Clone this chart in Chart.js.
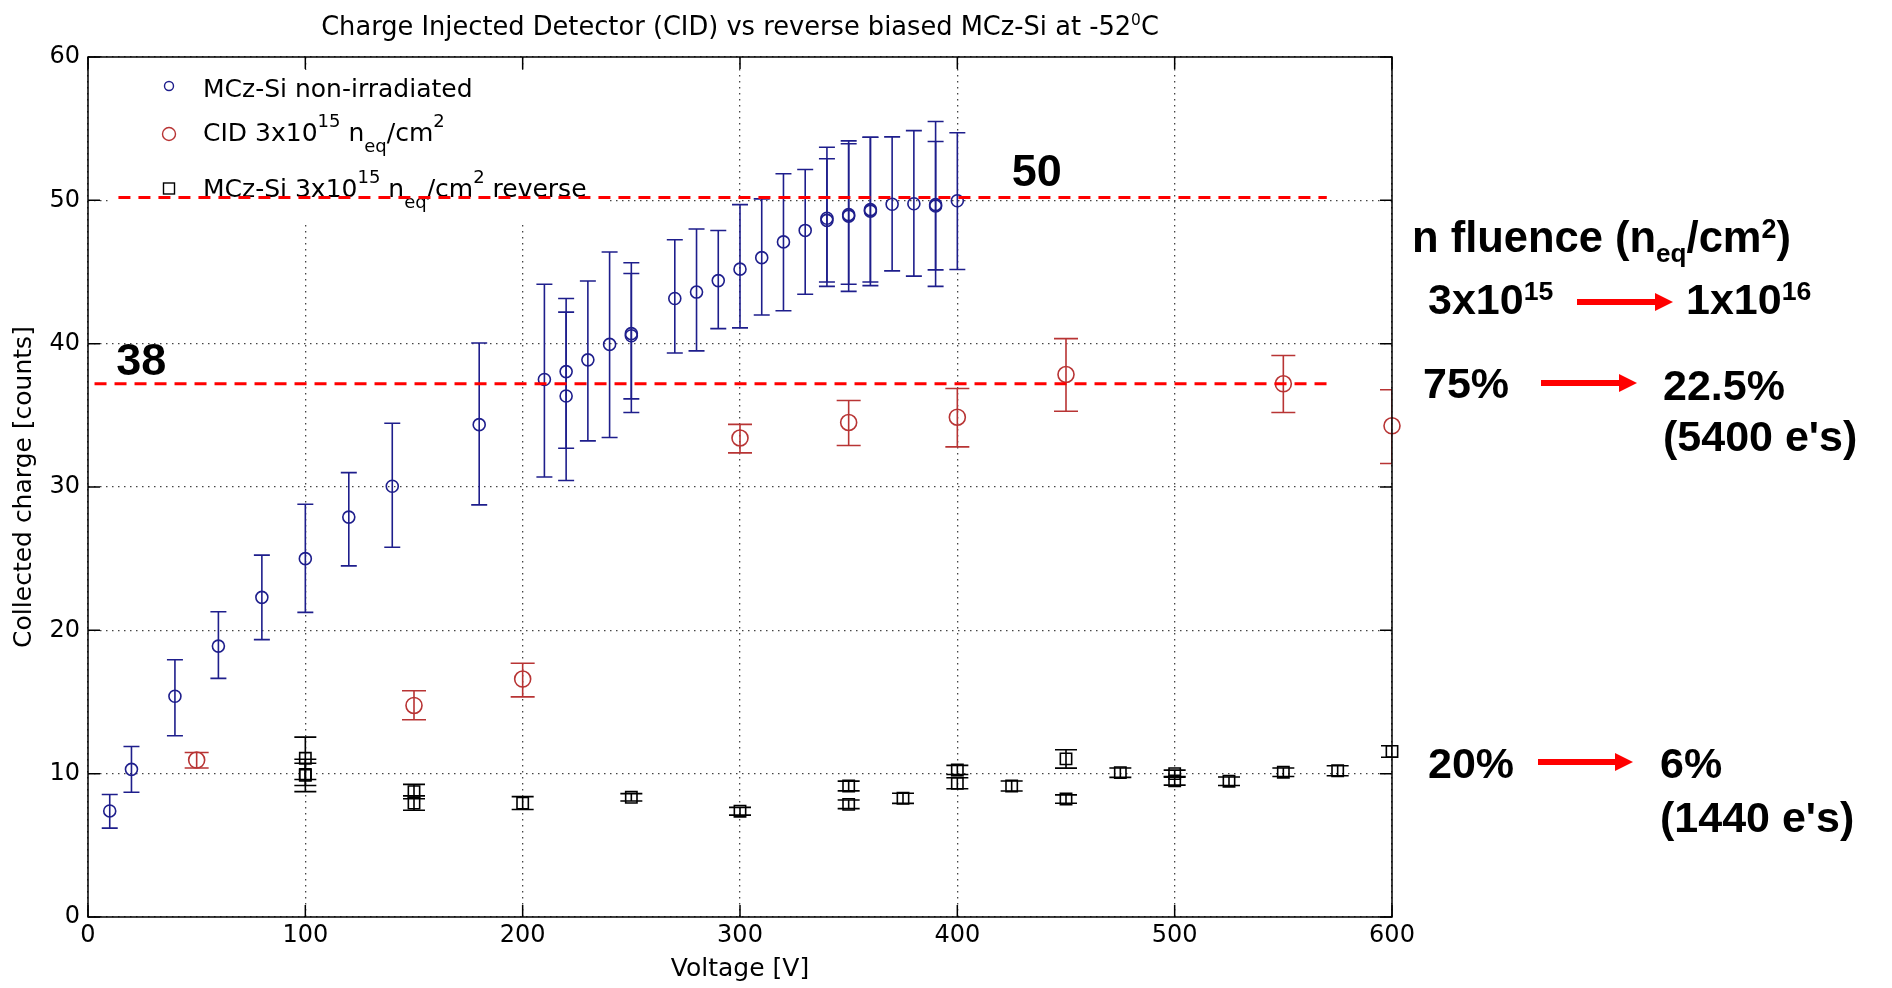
<!DOCTYPE html>
<html>
<head>
<meta charset="utf-8">
<script src="https://cdn.jsdelivr.net/npm/chart.js@4.4.1/dist/chart.umd.min.js"></script>
<style>
  html, body { margin: 0; padding: 0; background: #fff; }
  canvas { display: block; }
</style>
</head>
<body>
<canvas id="cid" width="1892" height="988"></canvas>
<script>
// ---- data ----
const xTicks = [0, 100, 200, 300, 400, 500, 600];
const yTicks = [0, 10, 20, 30, 40, 50, 60];

// MCz-Si non-irradiated
const blueVolts  = [10, 20, 40, 60, 80, 100, 120, 140, 180, 210, 220, 220, 230, 240, 250, 250, 270, 280, 290, 300, 310, 320, 330, 340, 340, 350, 350, 360, 360, 370, 380, 390, 390, 400];
const blueCharge = [7.4, 10.3, 15.4, 18.9, 22.3, 25.0, 27.9, 30.05, 34.35, 37.5, 38.05, 36.35, 38.87, 39.95, 40.7, 40.55, 43.15, 43.6, 44.4, 45.2, 46.0, 47.1, 47.9, 48.75, 48.6, 49.0, 48.9, 49.35, 49.25, 49.73, 49.76, 49.7, 49.6, 49.97];
const blueUp     = [1.15, 1.6, 2.55, 2.4, 2.95, 3.8, 3.1, 4.4, 5.7, 6.65, 5.1, 5.85, 5.5, 6.45, 4.95, 4.35, 4.1, 4.4, 3.5, 4.5, 4.1, 4.75, 4.25, 4.95, 4.3, 5.15, 5.05, 5.05, 5.15, 4.7, 5.1, 5.8, 4.5, 4.75];
const blueDown   = [1.2, 1.6, 2.75, 2.25, 2.95, 3.75, 3.4, 4.25, 5.6, 6.8, 5.35, 5.9, 5.65, 6.5, 5.5, 4.4, 3.8, 4.1, 3.35, 4.1, 4.0, 4.8, 4.45, 4.45, 4.6, 4.85, 5.25, 5.05, 5.2, 4.65, 5.05, 5.7, 4.45, 4.8];

// CID 3x10^15
const redVolts  = [50, 150, 200, 300, 350, 400, 450, 550, 600];
const redCharge = [10.95, 14.76, 16.6, 33.42, 34.5, 34.87, 37.85, 37.2, 34.27];
const redUp     = [0.53, 1.02, 1.1, 0.95, 1.53, 2.0, 2.5, 1.97, 2.52];
const redDown   = [0.55, 1.0, 1.24, 1.04, 1.6, 2.07, 2.56, 2.0, 2.63];

// MCz-Si 3x10^15 reverse
const blackVolts  = [100, 100, 100, 150, 150, 200, 250, 300, 350, 350, 375, 400, 400, 425, 450, 450, 475, 500, 500, 525, 550, 575, 600];
const blackCharge = [11.07, 9.88, 9.95, 8.75, 7.95, 7.95, 8.35, 7.38, 9.14, 7.86, 8.28, 10.26, 9.33, 9.14, 11.03, 8.23, 10.07, 10.0, 9.5, 9.47, 10.1, 10.2, 11.55];
const blackErr    = [1.48, 1.13, 0.78, 0.5, 0.5, 0.45, 0.26, 0.27, 0.34, 0.3, 0.35, 0.32, 0.38, 0.35, 0.64, 0.29, 0.33, 0.25, 0.3, 0.3, 0.3, 0.35, 0.4];

// red dashed reference levels
const refLevels = [50.2, 37.2];
const refFrom   = [14, 3];
const refTo     = [570, 570];
const refLabels = ['50', '38'];
const refLabelAt = [[425, 51.9], [13, 38.7]];

const FONT = '"DejaVu Sans", sans-serif';
const BOLD = '"Liberation Sans", Arial, sans-serif';
const BLUE = '#1e1e8c';
const RED = '#b83434';

const toPts = (xs, ys) => xs.map((x, i) => ({ x, y: ys[i] }));

// text with super/subscripts: parts = [[text, 0|1|-1], ...]
function drawRich(ctx, parts, x, y, size, o) {
  const f = s => `${o.weight || 'normal'} ${s}px ${o.family}`;
  const sizes = parts.map(p => p[1] ? size * (p[1] > 0 ? o.supScale : o.subScale) : size);
  const widths = parts.map((p, i) => { ctx.font = f(sizes[i]); return ctx.measureText(p[0]).width; });
  const total = widths.reduce((a, b) => a + b, 0);
  let cx = o.align === 'center' ? x - total / 2 : x;
  ctx.textAlign = 'left';
  ctx.textBaseline = 'alphabetic';
  ctx.fillStyle = o.color || '#000';
  parts.forEach((p, i) => {
    ctx.font = f(sizes[i]);
    const dy = p[1] > 0 ? -size * o.supRaise : p[1] < 0 ? size * o.subDrop : 0;
    ctx.fillText(p[0], cx, y + dy);
    cx += widths[i];
  });
}

function redArrow(ctx, x0, x1, y) {
  ctx.fillStyle = '#ff0000';
  ctx.fillRect(x0, y - 3, x1 - x0 - 17, 6);
  ctx.beginPath();
  ctx.moveTo(x1 - 18, y - 9);
  ctx.lineTo(x1, y);
  ctx.lineTo(x1 - 18, y + 9);
  ctx.closePath();
  ctx.fill();
}

const legendPlugin = {
  id: 'legendBox',
  beforeDatasetsDraw(chart) {
    const { ctx, chartArea: a } = chart;
    ctx.save();
    ctx.fillStyle = '#fff';
    ctx.fillRect(a.left + 20, a.top + 13, 502, 152);
    const lo = { family: FONT, supScale: 0.72, subScale: 0.72, supRaise: 0.55, subDrop: 0.45 };
    const mx = a.left + 81, tx = a.left + 115;
    ctx.lineWidth = 1.4;
    ctx.strokeStyle = BLUE;
    ctx.beginPath(); ctx.arc(mx, 86, 4.5, 0, Math.PI * 2); ctx.stroke();
    ctx.strokeStyle = RED;
    ctx.beginPath(); ctx.arc(mx, 134, 6.5, 0, Math.PI * 2); ctx.stroke();
    ctx.strokeStyle = '#000';
    ctx.strokeRect(mx - 5.5, 183, 11, 11);
    drawRich(ctx, [[chart.data.datasets[2].label, 0]], tx, 97, 25, lo);
    drawRich(ctx, [['CID 3x10', 0], ['15', 1], [' n', 0], ['eq', -1], ['/cm', 0], ['2', 1]], tx, 141, 25, lo);
    drawRich(ctx, [['MCz-Si 3x10', 0], ['15', 1], [' n', 0], ['eq', -1], ['/cm', 0], ['2', 1], [' reverse', 0]], tx, 197, 25, lo);
    ctx.restore();
  }
};

const errorBarPlugin = {
  id: 'errorBars',
  beforeDatasetsDraw(chart) {
    const { ctx, chartArea: a, scales: { x, y } } = chart;
    ctx.save();
    ctx.beginPath();
    ctx.rect(a.left, a.top, a.right - a.left, a.bottom - a.top);
    ctx.clip();
    chart.data.datasets.forEach(ds => {
      if (!ds.errUp) return;
      ctx.strokeStyle = ds.borderColor;
      ctx.lineWidth = 1.6;
      ds.data.forEach((p, i) => {
        const px = x.getPixelForValue(p.x);
        const top = y.getPixelForValue(p.y + ds.errUp[i]);
        const bot = y.getPixelForValue(p.y - ds.errDown[i]);
        ctx.beginPath();
        ctx.moveTo(px, top); ctx.lineTo(px, bot);
        ctx.moveTo(px - ds.capHalf, top); ctx.lineTo(px + ds.capHalf, top);
        ctx.moveTo(px - ds.capHalf, bot); ctx.lineTo(px + ds.capHalf, bot);
        ctx.stroke();
      });
    });
    ctx.restore();
  }
};

const framePlugin = {
  id: 'frame',
  afterDatasetsDraw(chart) {
    const { ctx, chartArea: a, scales: { x, y } } = chart;
    ctx.save();
    ctx.strokeStyle = '#000';
    ctx.lineWidth = 1.5;
    ctx.strokeRect(a.left, a.top, a.right - a.left, a.bottom - a.top);
    ctx.beginPath();
    xTicks.forEach(v => {
      const px = x.getPixelForValue(v);
      ctx.moveTo(px, a.bottom); ctx.lineTo(px, a.bottom - 12);
      ctx.moveTo(px, a.top); ctx.lineTo(px, a.top + 12);
    });
    yTicks.forEach(v => {
      const py = y.getPixelForValue(v);
      ctx.moveTo(a.left, py); ctx.lineTo(a.left + 12, py);
      ctx.moveTo(a.right, py); ctx.lineTo(a.right - 12, py);
    });
    ctx.stroke();
    ctx.restore();
  }
};

const notesPlugin = {
  id: 'notes',
  afterDraw(chart) {
    const { ctx, chartArea: a, scales: { x, y } } = chart;
    ctx.save();
    // title
    drawRich(ctx, [['Charge Injected Detector (CID) vs reverse biased MCz-Si at -52', 0], ['0', 1], ['C', 0]],
      (a.left + a.right) / 2, 35, 25.7, { family: FONT, align: 'center', supScale: 0.6, supRaise: 0.38 });
    // labels of the dashed levels
    ctx.font = `bold 45px ${BOLD}`;
    ctx.fillStyle = '#000';
    ctx.textAlign = 'left';
    ctx.textBaseline = 'middle';
    refLabels.forEach((t, i) => ctx.fillText(t, x.getPixelForValue(refLabelAt[i][0]), y.getPixelForValue(refLabelAt[i][1])));
    // side notes
    const no = { family: BOLD, weight: 'bold', supScale: 0.62, subScale: 0.6, supRaise: 0.32, subDrop: 0.24 };
    const r = a.right;
    drawRich(ctx, [['n fluence (n', 0], ['eq', -1], ['/cm', 0], ['2', 1], [')', 0]], r + 20, 252, 43.5, no);
    drawRich(ctx, [['3x10', 0], ['15', 1]], r + 36, 314, 43, no);
    drawRich(ctx, [['1x10', 0], ['16', 1]], r + 294, 314, 43, no);
    drawRich(ctx, [['75%', 0]], r + 31, 398, 43, no);
    drawRich(ctx, [['22.5%', 0]], r + 271, 400, 43, no);
    drawRich(ctx, [["(5400 e's)", 0]], r + 271, 451, 43, no);
    drawRich(ctx, [['20%', 0]], r + 36, 778, 43, no);
    drawRich(ctx, [['6%', 0]], r + 268, 778, 43, no);
    drawRich(ctx, [["(1440 e's)", 0]], r + 268, 832, 43, no);
    redArrow(ctx, r + 185, r + 281, 302);
    redArrow(ctx, r + 149, r + 245, 383);
    redArrow(ctx, r + 146, r + 241, 762);
    ctx.restore();
  }
};

const refSets = refLevels.map((lv, i) => ({
  label: 'level ' + refLabels[i],
  data: [{ x: refFrom[i], y: lv }, { x: refTo[i], y: lv }],
  showLine: true,
  borderColor: '#ff0000',
  borderWidth: 3,
  borderDash: [12, 8],
  pointRadius: 0,
  order: 0
}));

new Chart(document.getElementById('cid'), {
  type: 'scatter',
  data: {
    datasets: [
      ...refSets,
      {
        label: 'MCz-Si non-irradiated',
        data: toPts(blueVolts, blueCharge),
        errUp: blueUp, errDown: blueDown, capHalf: 8,
        pointStyle: 'circle', pointRadius: 6, borderWidth: 1.6,
        borderColor: BLUE, backgroundColor: 'transparent', clip: false, order: 1
      },
      {
        label: 'CID 3x10^15 neq/cm^2',
        data: toPts(redVolts, redCharge),
        errUp: redUp, errDown: redDown, capHalf: 12,
        pointStyle: 'circle', pointRadius: 8, borderWidth: 1.6,
        borderColor: RED, backgroundColor: 'transparent', clip: false, order: 1
      },
      {
        label: 'MCz-Si 3x10^15 neq/cm^2 reverse',
        data: toPts(blackVolts, blackCharge),
        errUp: blackErr, errDown: blackErr, capHalf: 11,
        pointStyle: 'rect', pointRadius: 8, borderWidth: 1.6,
        borderColor: '#000', backgroundColor: 'transparent', clip: false, order: 1
      }
    ]
  },
  options: {
    responsive: false,
    animation: false,
    devicePixelRatio: 1,
    layout: { padding: { top: 57, right: 500, left: 0, bottom: 0 } },
    plugins: { legend: { display: false }, tooltip: { enabled: false } },
    scales: {
      x: {
        type: 'linear', min: 0, max: 600,
        afterBuildTicks: s => { s.ticks = xTicks.map(v => ({ value: v })); },
        afterFit: s => { s.height = 71; },
        ticks: { color: '#000', font: { family: FONT, size: 24 }, padding: 4, maxRotation: 0 },
        grid: { color: '#444', lineWidth: 1.3, drawTicks: false },
        border: { display: false, dash: [1.5, 4.5] },
        title: { display: true, text: 'Voltage [V]', color: '#000', font: { family: FONT, size: 25 }, padding: { top: 0, bottom: 4 } }
      },
      y: {
        type: 'linear', min: 0, max: 60,
        afterBuildTicks: s => { s.ticks = yTicks.map(v => ({ value: v })); },
        afterFit: s => { s.width = 88; },
        ticks: { color: '#000', font: { family: FONT, size: 24 }, padding: 8 },
        grid: { color: '#444', lineWidth: 1.3, drawTicks: false },
        border: { display: false, dash: [1.5, 4.5] },
        title: { display: true, text: 'Collected charge [counts]', color: '#000', font: { family: FONT, size: 25 }, padding: { top: 9, bottom: 0 } }
      }
    }
  },
  plugins: [legendPlugin, errorBarPlugin, framePlugin, notesPlugin]
});
</script>
</body>
</html>
